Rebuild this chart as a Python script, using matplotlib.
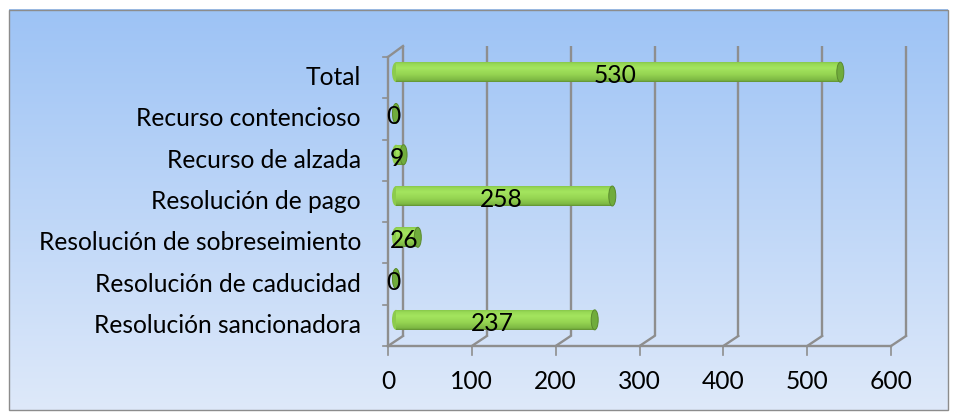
import matplotlib
matplotlib.use("Agg")
import matplotlib.pyplot as plt
import numpy as np
from matplotlib.patches import Ellipse, Rectangle
from matplotlib.transforms import ScaledTranslation
from matplotlib.colors import to_rgb

categories = ["Resolución sancionadora", "Resolución de caducidad",
              "Resolución de sobreseimiento", "Resolución de pago",
              "Recurso de alzada", "Recurso contencioso", "Total"]
values = [237, 0, 26, 258, 9, 0, 530]
xticks = [0, 100, 200, 300, 400, 500, 600]

W, H, DPI = 957, 415, 100
FONT = ["Lato", "DejaVu Sans"]
fig = plt.figure(figsize=(W / DPI, H / DPI), dpi=DPI)

def fx(px):
    return px / W

def fy(py):
    return 1 - py / H

# background gradient panel
bg = fig.add_axes([0, 0, 1, 1], zorder=0)
bg.set_xlim(0, W); bg.set_ylim(H, 0); bg.axis("off")
top = np.array([157, 195, 245]) / 255
bot = np.array([222, 233, 250]) / 255
t = np.linspace(0, 1, 256)[:, None, None]
grad = top * (1 - t) + bot * t
bg.imshow(grad, extent=[9, 948, 410, 10], aspect="auto", zorder=0)
bg.add_patch(Rectangle((9, 10), 939, 400, fill=False, edgecolor="#8C8C8C", lw=1.0, zorder=2))

# main axes (front plane)
L, R, T, B = 388, 891, 57, 346
PY = (B - T) / len(categories)
ax = fig.add_axes([fx(L), fy(B), (R - L) / W, (B - T) / H], zorder=1)
ax.patch.set_alpha(0)
ax.set_xlim(0, 600)
ax.set_ylim(-0.5, len(categories) - 0.5)
for s in ax.spines.values():
    s.set_visible(False)
ax.set_xticks([]); ax.set_yticks([])
pxu = 600 / (R - L)

def off(dx, dy):
    return ax.transData + ScaledTranslation(dx / DPI, dy / DPI, fig.dpi_scale_trans)

gc = "#8E8E8E"
DX, DY = 15, 10
for v in xticks:
    tr = off(DX, DY)
    ax.plot([v, v], [-0.5, len(categories) - 0.5 + 1 / PY], color=gc, lw=1.7, transform=tr,
            clip_on=False, zorder=1, solid_capstyle="butt")
    ax.plot([v, v + DX * pxu], [-0.5, -0.5 + DY / PY], color=gc, lw=1.7, clip_on=False, zorder=1)
    ax.plot([v, v], [-0.5, -0.5 - 9 / PY], color=gc, lw=1.2, clip_on=False, zorder=1)
ax.plot([0, 600], [-0.5, -0.5], color=gc, lw=1.7, clip_on=False, zorder=1)
ax.plot([0, 0], [-0.5, len(categories) - 0.5], color=gc, lw=1.7, clip_on=False, zorder=1)
ax.plot([0, DX * pxu], [len(categories) - 0.5, len(categories) - 0.5 + (DY + 1) / PY],
        color=gc, lw=1.7, clip_on=False, zorder=1)
for k in range(len(categories) + 1):
    yv = k - 0.5
    ax.plot([0, -5 * pxu], [yv, yv], color=gc, lw=1.2, clip_on=False, zorder=1)

# cylinders with vertical shading
BX, BY = 8, 5.5
tr = off(BX, BY)
bh = 20 / PY
stops = [(0.0, "#5E8E30"), (0.1, "#7CB843"), (0.4, "#96D552"), (0.7, "#A3E45E"),
         (0.9, "#98D855"), (1.0, "#86C74A")]  # bottom -> top
sp = np.array([s[0] for s in stops])
sc = np.array([to_rgb(s[1]) for s in stops])

def shade(f):
    return [np.interp(f, sp, sc[:, j]) for j in range(3)]

N = 20
for i, v in enumerate(values):
    ax.add_patch(Ellipse((0, i), 8 * pxu, bh, transform=tr, facecolor="#8CCB4D",
                         edgecolor="none", zorder=3, clip_on=False))
    for k in range(N):
        f = (k + 0.5) / N
        yc = i - bh / 2 + f * bh
        ax.barh(yc, v, height=bh / N * 1.15, left=0, color=shade(f), lw=0,
                transform=tr, zorder=4, clip_on=False)
    ax.add_patch(Ellipse((v, i), 7 * pxu, bh, transform=tr, facecolor="#70AC3C",
                         edgecolor="#5A8A2E", lw=0.7, zorder=5, clip_on=False))

# font size fit to measured label width
fs = 10
probe = fig.text(0, 0, categories[2], fontsize=fs, family=FONT)
fig.canvas.draw()
w = probe.get_window_extent().width
probe.remove()
fs = fs * 324 / w

lt = off(5, 2)
for i, v in enumerate(values):
    ax.text(v / 2, i, str(v), transform=lt, ha="center", va="center", fontsize=fs,
            family=FONT, color="black", zorder=6)

ct = ax.transData + ScaledTranslation(-27 / DPI, 0, fig.dpi_scale_trans)
for i, c in enumerate(categories):
    ax.text(0, i, c, transform=ct, ha="right", va="center", fontsize=fs, family=FONT, color="black")

for v in xticks:
    ax.text(v, -0.5 - 35 / PY, str(v), ha="center", va="center", fontsize=fs, family=FONT,
            color="black", clip_on=False)

fig.savefig("out.png", dpi=DPI)
